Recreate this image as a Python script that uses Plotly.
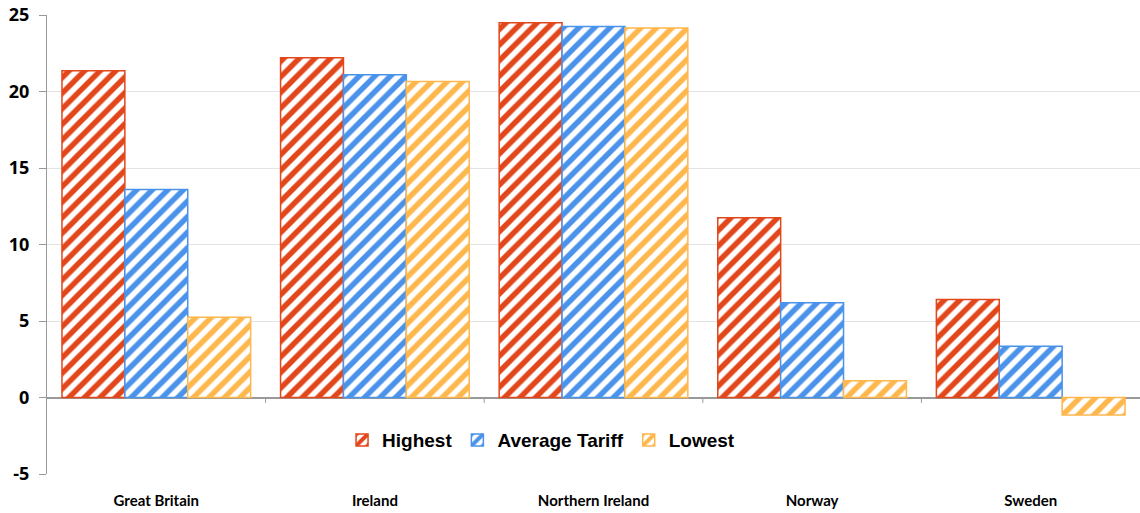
import plotly.graph_objects as go

categories = ["Great Britain", "Ireland", "Northern Ireland", "Norway", "Sweden"]
highest = [21.35, 22.2, 24.5, 11.75, 6.4]
average = [13.6, 21.1, 24.25, 6.2, 3.35]
lowest = [5.25, 20.65, 24.15, 1.1, -1.15]
series_names = ["Highest", "Average Tariff", "Lowest"]
colors = ["#E2461B", "#4A92EA", "#FEB74C"]
yticks = [-5, 0, 5, 10, 15, 20, 25]
yticklabels = ["-5", "0", "5", "10", "15", "20", "25"]

fig = go.Figure()
for name, vals, c in zip(series_names, [highest, average, lowest], colors):
    fig.add_trace(go.Bar(
        x=categories, y=vals, name=name,
        marker=dict(color="white",
                    line=dict(color=c, width=1.5),
                    pattern=dict(shape="/", fgcolor=c, bgcolor="white", fgopacity=1,
                                 size=11, solidity=0.5, fillmode="overlay")),
    ))

# category boundary ticks on the zero line
for i in range(len(categories) - 1):
    fig.add_shape(type="line", xref="x", yref="y",
                  x0=i + 0.5, x1=i + 0.5, y0=0, y1=-0.35,
                  line=dict(color="#999999", width=1))

fig.update_layout(
    width=1140, height=513,
    margin=dict(l=47, r=0, t=15, b=39),
    plot_bgcolor="white", paper_bgcolor="white",
    barmode="group", bargap=0.137, bargroupgap=0,
    showlegend=True,
    legend=dict(orientation="h", x=0.452, xanchor="center", y=0.074, yanchor="middle",
                font=dict(family="Liberation Sans", size=19, color="#000000", weight="bold"),
                bgcolor="rgba(0,0,0,0)", itemwidth=30, tracegroupgap=0),
    xaxis=dict(showline=False, ticks="", showgrid=False, automargin=False,
               tickfont=dict(family="Lato", size=15, color="#000000", weight="bold"),
               ticklabelstandoff=16),
    yaxis=dict(range=[-5, 25], tickvals=yticks, ticktext=yticklabels, automargin=False,
               showgrid=True, gridcolor="#E3E3E3",
               gridwidth=1, zeroline=True, zerolinecolor="#999999", zerolinewidth=1.5,
               showline=True, linecolor="#999999", linewidth=1,
               ticks="outside", ticklen=7, tickcolor="#999999", ticklabelstandoff=6,
               tickfont=dict(family="Open Sans", size=18, color="#000000", weight="bold")),
)

fig.write_html("out.html", config={"displayModeBar": False},
               post_script="document.body.style.margin='0';")
